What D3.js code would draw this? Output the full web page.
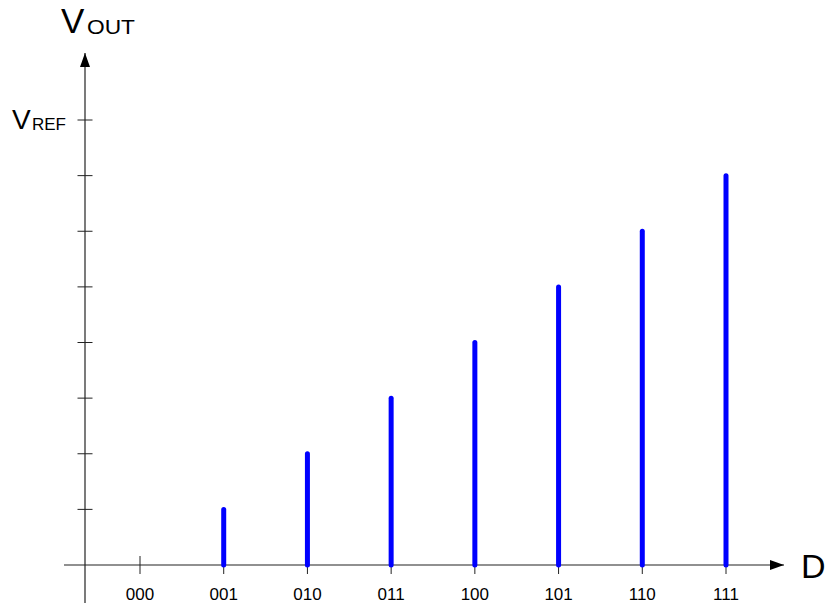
<!DOCTYPE html>
<html>
<head>
<meta charset="utf-8">
<script src="https://cdn.jsdelivr.net/npm/d3@7"></script>
<style>
  html, body { margin: 0; padding: 0; background: #fff; }
  svg { display: block; font-family: "Liberation Sans", Arial, Helvetica, sans-serif; }
</style>
</head>
<body>
<svg id="chart" width="828" height="605"></svg>
<script>
// ---- data ----
const codes = ["000", "001", "010", "011", "100", "101", "110", "111"];
const levels = [0, 1, 2, 3, 4, 5, 6, 7];          // output in units of VREF/8
const yTickValues = [1, 2, 3, 4, 5, 6, 7, 8];
const fullScale = 8;                               // VREF level
const yAxisTitle = { main: "V", sub: "OUT" };
const xAxisTitle = "D";
const refLabel = { main: "V", sub: "REF" };

// ---- layout ----
const svg = d3.select("#chart");
const axisColor = "#222";
const barColor = "#0000ff";

const x = d3.scalePoint().domain(codes).range([140, 726]);
const y = d3.scaleLinear().domain([0, fullScale]).range([565, 120]);

const x0 = 85;            // y-axis position
const yBase = y(0);       // x-axis position

svg.append("defs").append("marker")
  .attr("id", "arrow")
  .attr("viewBox", "0 0 14 10")
  .attr("refX", 14).attr("refY", 5)
  .attr("markerWidth", 14).attr("markerHeight", 10)
  .attr("markerUnits", "userSpaceOnUse")
  .attr("orient", "auto")
  .append("path").attr("d", "M0,0 L14,5 L0,10 Z").attr("fill", "#000");

svg.append("line")
  .attr("x1", 64).attr("y1", yBase).attr("x2", 784).attr("y2", yBase)
  .attr("stroke", axisColor).attr("stroke-width", 1.2)
  .attr("marker-end", "url(#arrow)");

svg.append("line")
  .attr("x1", x0).attr("y1", 603).attr("x2", x0).attr("y2", 53)
  .attr("stroke", axisColor).attr("stroke-width", 1.2)
  .attr("marker-end", "url(#arrow)");

// y ticks
svg.append("g").selectAll("line").data(yTickValues).join("line")
  .attr("x1", x0 - 7.5).attr("x2", x0 + 7.5)
  .attr("y1", d => y(d)).attr("y2", d => y(d))
  .attr("stroke", axisColor).attr("stroke-width", 1);

// x ticks
svg.append("g").selectAll("line").data(codes).join("line")
  .attr("x1", d => x(d)).attr("x2", d => x(d))
  .attr("y1", yBase - 9).attr("y2", yBase + 9)
  .attr("stroke", axisColor).attr("stroke-width", 1);

// x tick labels
svg.append("g").selectAll("text").data(codes).join("text")
  .attr("x", d => x(d)).attr("y", 600)
  .attr("text-anchor", "middle")
  .attr("font-size", 17)
  .attr("fill", "#000")
  .text(d => d);

// bars (stems)
const stems = codes.map((c, i) => ({ code: c, v: levels[i] })).filter(d => d.v > 0);
svg.append("g").selectAll("line").data(stems).join("line")
  .attr("x1", d => x(d.code)).attr("x2", d => x(d.code))
  .attr("y1", yBase).attr("y2", d => y(d.v))
  .attr("stroke", barColor).attr("stroke-width", 5)
  .attr("stroke-linecap", "round");

// axis titles
svg.append("text").attr("x", 61).attr("y", 33).attr("fill", "#000")
  .attr("font-size", 35).text(yAxisTitle.main);
svg.append("text").attr("x", 87).attr("y", 34).attr("fill", "#000")
  .attr("font-size", 21).attr("textLength", 48).attr("lengthAdjust", "spacingAndGlyphs")
  .text(yAxisTitle.sub);

svg.append("text").attr("x", 801).attr("y", 578)
  .attr("font-size", 34).attr("fill", "#000").text(xAxisTitle);

svg.append("text").attr("x", 12).attr("y", 129).attr("fill", "#000")
  .attr("font-size", 28).text(refLabel.main);
svg.append("text").attr("x", 32).attr("y", 130).attr("fill", "#000")
  .attr("font-size", 17).attr("textLength", 34).attr("lengthAdjust", "spacingAndGlyphs")
  .text(refLabel.sub);
</script>
</body>
</html>
